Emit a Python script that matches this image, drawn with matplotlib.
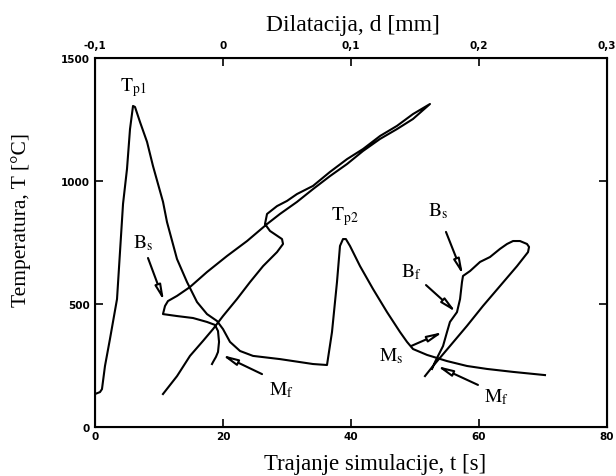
import matplotlib
matplotlib.use("Agg")
import matplotlib.pyplot as plt

plt.rcParams['mathtext.fontset'] = 'stix'

# Thermal cycle: simulation time t [s] vs temperature T [°C]
t_cycle = [0.0, 0.78, 1.09, 1.56, 2.34, 3.44, 4.38, 5.0, 5.47, 5.94, 6.25, 7.03, 8.13, 9.06,
           10.63, 11.25, 12.81, 14.38, 15.94, 17.5, 19.06, 20.0, 21.09, 22.66, 24.69, 28.91,
           34.06, 36.25, 37.03, 37.81, 38.28, 38.75, 39.2, 39.84, 41.41, 43.44, 45.63, 47.66,
           48.75, 49.69, 51.88, 55.0, 58.13, 61.25, 65.31, 70.31]
T_cycle = [134, 142, 154, 248, 358, 520, 907, 1049, 1211, 1305, 1301, 1240, 1159, 1061,
           915, 833, 683, 589, 508, 459, 431, 398, 346, 309, 289, 276,
           256, 252, 386, 589, 736, 764, 764, 736, 654, 561, 467, 386,
           346, 317, 293, 268, 248, 236, 224, 211]

# First dilatation loop: dilatation d [mm] vs temperature T [°C]
d_loop1 = [-0.0469, -0.0359, -0.0258, -0.0156, -0.0078, 0.0, 0.0109, 0.0211, 0.0313, 0.0422,
           0.0469, 0.0461, 0.0367, 0.0328, 0.0344, 0.0422, 0.05, 0.0578, 0.0703, 0.0836,
           0.0969, 0.1094, 0.1227, 0.1359, 0.1484, 0.1617,
           0.1484, 0.1359, 0.1227, 0.1094, 0.0969, 0.0836, 0.0703, 0.0578, 0.0445, 0.0344,
           0.0188, 0.0031, -0.0125, -0.0258, -0.0359, -0.043, -0.0453, -0.0469, -0.0359,
           -0.0234, -0.0125, -0.0063, -0.0039, -0.0031, -0.0039, -0.0055, -0.0078, -0.0086]
T_loop1 = [134, 207, 289, 350, 398, 451, 520, 589, 654, 711,
           744, 764, 797, 825, 866, 898, 919, 947, 980, 1037,
           1089, 1130, 1183, 1224, 1272, 1313,
           1252, 1211, 1171, 1122, 1069, 1020, 967, 915, 866, 825,
           756, 695, 630, 569, 533, 512, 492, 459, 451,
           443, 427, 415, 390, 346, 305, 285, 264, 256]

# Second dilatation loop
d_loop2 = [0.1578, 0.1641, 0.1773, 0.1906, 0.2031, 0.2164, 0.2297, 0.2383, 0.2391, 0.2375,
           0.232, 0.2266, 0.2219, 0.2164, 0.2086, 0.2008, 0.193, 0.1875, 0.1867, 0.1852,
           0.1828, 0.1773, 0.175, 0.1719, 0.168, 0.1656, 0.1633]
T_loop2 = [207, 248, 329, 411, 492, 573, 654, 711, 732, 744,
           756, 756, 744, 724, 691, 671, 634, 614, 589, 520,
           467, 427, 386, 329, 289, 264, 236]

t_ticks = [0, 20, 40, 60, 80]
T_ticks = [0, 500, 1000, 1500]
d_ticks = [-0.1, 0.0, 0.1, 0.2, 0.3]
d_ticklabels = ['-0,1', '0', '0,1', '0,2', '0,3']

# Annotations: (label, text position (t,T)) and arrows (start, tip) in t/T units
labels = [
    (r'$\mathrm{T_{p1}}$', (5.94, 1382)),
    (r'$\mathrm{T_{p2}}$', (39.1, 858)),
    (r'$\mathrm{B_s}$', (7.5, 752)),
    (r'$\mathrm{M_f}$', (29.2, 154)),
    (r'$\mathrm{B_s}$', (53.6, 882)),
    (r'$\mathrm{B_f}$', (49.4, 634)),
    (r'$\mathrm{M_s}$', (46.25, 293)),
    (r'$\mathrm{M_f}$', (62.7, 126)),
]
arrows = [
    ((8.28, 687), (10.78, 512)),
    ((26.1, 215), (19.84, 293)),
    ((54.84, 793), (57.5, 618)),
    ((51.72, 577), (56.41, 467)),
    ((49.38, 329), (54.38, 386)),
    ((59.84, 171), (53.44, 248)),
]

W, H = 616, 477
fig = plt.figure(figsize=(W/100, H/100), dpi=100)
ax = fig.add_axes([95/W, 1-428/H, 512/W, 369/H])
lw = 1.5
ax.plot(t_cycle, T_cycle, color='black', lw=lw, solid_joinstyle='round')
ax.set_xlim(0, 80)
ax.set_ylim(0, 1500)
ax.set_xticks(t_ticks)
ax.set_yticks(T_ticks)
tickfont = dict(family='DejaVu Sans', weight='bold', size=7.5)
ax.set_xticklabels([str(v) for v in t_ticks], **tickfont)
ax.set_yticklabels([str(v) for v in T_ticks], **tickfont)
ax.tick_params(axis='x', direction='in', length=6, width=1.2, pad=3, top=False)
ax.tick_params(axis='y', direction='in', length=6, width=1.2, pad=4, right=True)
for s in ax.spines.values():
    s.set_linewidth(1.5)

ax2 = ax.twiny()
ax2.plot(d_loop1, T_loop1, color='black', lw=lw, solid_joinstyle='round')
ax2.plot(d_loop2, T_loop2, color='black', lw=lw, solid_joinstyle='round')
ax2.set_xlim(-0.1, 0.3)
ax2.set_xticks(d_ticks)
ax2.set_xticklabels(d_ticklabels, **tickfont)
ax2.tick_params(axis='x', direction='in', length=6, width=1.2, pad=6)

serif = 'Liberation Serif'
fig.text(375/W, 1-470/H, 'Trajanje simulacije, t [s]', family=serif, fontsize=16.4,
         ha='center', va='baseline')
fig.text(353/W, 1-31/H, 'Dilatacija, d [mm]', family=serif, fontsize=17,
         ha='center', va='baseline')
fig.text(21/W, 1-220/H, 'Temperatura, T [°C]', family=serif, fontsize=15.5,
         rotation=90, ha='center', va='center')

for txt, pos in labels:
    ax.text(pos[0], pos[1], txt, fontsize=14, ha='center', va='center')
for start, tip in arrows:
    ax.annotate('', xy=tip, xytext=start,
                arrowprops=dict(arrowstyle='-|>,head_length=0.9,head_width=0.18',
                                lw=1.5, color='black', fc='white',
                                shrinkA=0, shrinkB=0))

fig.savefig('out.png', dpi=100)
